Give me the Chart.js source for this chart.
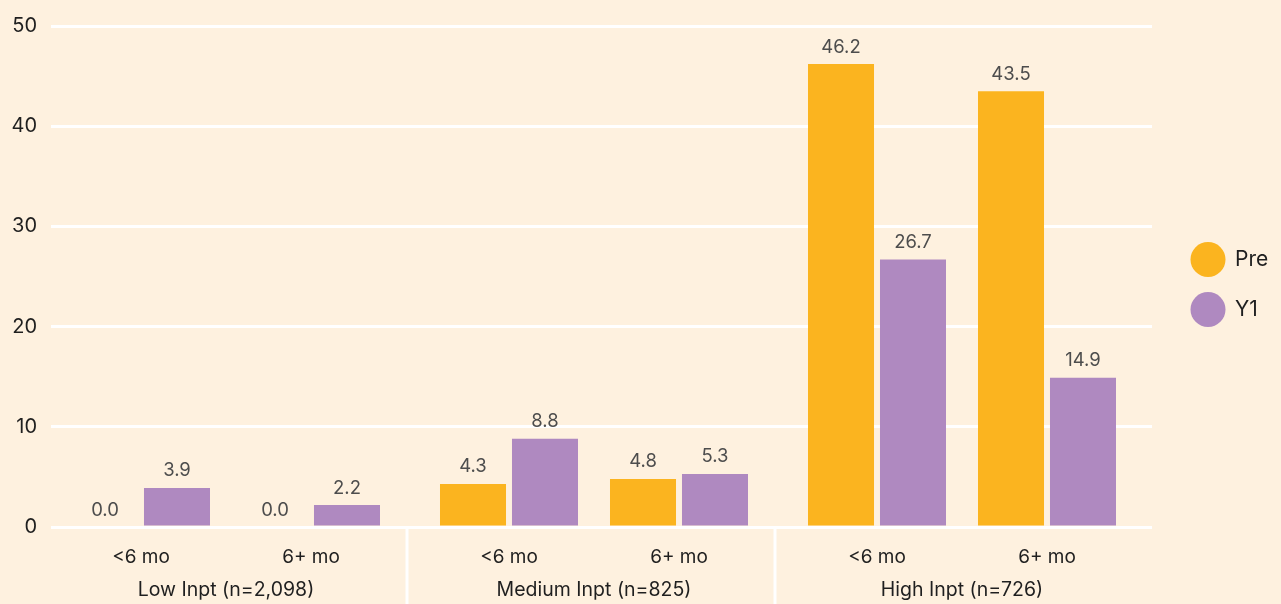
<!DOCTYPE html>
<html>
<head>
<meta charset="utf-8">
<script src="https://cdn.jsdelivr.net/npm/chart.js@4/dist/chart.umd.min.js"></script>
<style>
  html, body { margin: 0; padding: 0; background: #fef1df; }
  #wrap { width: 1281px; height: 604px; }
</style>
</head>
<body>
<div id="wrap"><canvas id="grafico" width="1281" height="604"></canvas></div>
<script>
// data
const subLabels = ["<6 mo", "6+ mo", "<6 mo", "6+ mo", "<6 mo", "6+ mo"];
const groupLabels = ["Low Inpt (n=2,098)", "Medium Inpt (n=825)", "High Inpt (n=726)"];
const preValues = [0.0, 0.0, 4.3, 4.8, 46.2, 43.5];
const y1Values = [3.9, 2.2, 8.8, 5.3, 26.7, 14.9];
const yTicks = [0, 10, 20, 30, 40, 50];

const FONT = "Inter, 'Noto Sans', sans-serif";

// category scale with wider gaps between groups of sub-categories
class GroupedCategoryScale extends Chart.CategoryScale {
  getPixelForValue(value) {
    if (typeof value !== "number") value = this.parse(value);
    if (value === null || value === undefined) return NaN;
    const o = this.options.grouping;
    const nGroups = Math.ceil(this.getLabels().length / o.size);
    const groupSpan = (o.size - 1) * o.inner + o.between;
    const total = o.startPad + o.endPad + nGroups * (o.size - 1) * o.inner + (nGroups - 1) * o.between;
    const g = Math.floor(value / o.size);
    const k = value - g * o.size;
    const pos = o.startPad + g * groupSpan + k * o.inner;
    return this.getPixelForDecimal(pos / total);
  }
}
GroupedCategoryScale.id = "groupedCategory";
GroupedCategoryScale.defaults = Chart.CategoryScale.defaults;
Chart.register(GroupedCategoryScale);

// value labels above bars
const valueLabels = {
  id: "valueLabels",
  afterDatasetsDraw(chart) {
    const ctx = chart.ctx;
    ctx.save();
    ctx.font = "18.5px " + FONT;
    ctx.fillStyle = "#4d4d4d";
    ctx.textAlign = "center";
    ctx.textBaseline = "middle";
    chart.data.datasets.forEach((ds, di) => {
      chart.getDatasetMeta(di).data.forEach((bar, i) => {
        ctx.fillText(ds.data[i].toFixed(1), bar.x, bar.y - 17);
      });
    });
    ctx.restore();
  }
};

// group labels, separators and legend
const extras = {
  id: "extras",
  afterDraw(chart) {
    const ctx = chart.ctx;
    const x = chart.scales.x;
    const area = chart.chartArea;
    const size = x.options.grouping.size;
    ctx.save();
    // separators between groups
    ctx.strokeStyle = "#ffffff";
    ctx.lineWidth = 3;
    for (let g = 1; g < groupLabels.length; g++) {
      const sx = Math.round((x.getPixelForValue(g * size - 1) + x.getPixelForValue(g * size)) / 2) - 3;
      ctx.beginPath();
      ctx.moveTo(sx, area.bottom);
      ctx.lineTo(sx, chart.height);
      ctx.stroke();
    }
    // group labels
    ctx.font = "19.5px " + FONT;
    ctx.fillStyle = "#1f1f1f";
    ctx.textAlign = "center";
    ctx.textBaseline = "middle";
    groupLabels.forEach((lab, g) => {
      const cx = (x.getPixelForValue(g * size) + x.getPixelForValue(g * size + size - 1)) / 2;
      ctx.fillText(lab, cx, area.bottom + 63);
    });
    // legend
    const midY = (area.top + area.bottom) / 2 + 8;
    ctx.textAlign = "left";
    ctx.font = "21px " + FONT;
    chart.data.datasets.forEach((ds, i) => {
      const cy = midY - 25 + i * 50;
      ctx.fillStyle = ds.backgroundColor;
      ctx.beginPath();
      ctx.arc(area.right + 56, cy, 17.5, 0, Math.PI * 2);
      ctx.fill();
      ctx.fillStyle = "#1f1f1f";
      ctx.fillText(ds.label, area.right + 83, cy);
    });
    ctx.restore();
  }
};

const ctx = document.getElementById("grafico").getContext("2d");
const chart = new Chart(ctx, {
  type: "bar",
  data: {
    labels: subLabels,
    datasets: [
      { label: "Pre", data: preValues, backgroundColor: "#fbb41f" },
      { label: "Y1", data: y1Values, backgroundColor: "#af89c0" }
    ]
  },
  options: {
    responsive: false,
    animation: false,
    layout: { padding: { top: 20, right: 129, left: 0, bottom: 0 } },
    datasets: { bar: { categoryPercentage: 0.847, barPercentage: 0.917 } },
    plugins: { legend: { display: false }, tooltip: { enabled: false } },
    scales: {
      x: {
        type: "groupedCategory",
        grouping: { size: 2, inner: 170, between: 198, startPad: 90, endPad: 105 },
        grid: { display: false, drawTicks: false },
        border: { display: false },
        ticks: { padding: 19, font: { size: 19, family: FONT }, color: "#1f1f1f", maxRotation: 0, autoSkip: false },
        afterFit(scale) { scale.height = 77; }
      },
      y: {
        min: 0,
        max: 50,
        afterBuildTicks(scale) { scale.ticks = yTicks.map(v => ({ value: v })); },
        grid: { color: "#ffffff", lineWidth: 3, drawTicks: false },
        border: { display: false },
        ticks: { padding: 14, font: { size: 20, family: FONT }, color: "#1f1f1f" },
        afterFit(scale) { scale.width = 51; }
      }
    }
  },
  plugins: [valueLabels, extras]
});
</script>
</body>
</html>
